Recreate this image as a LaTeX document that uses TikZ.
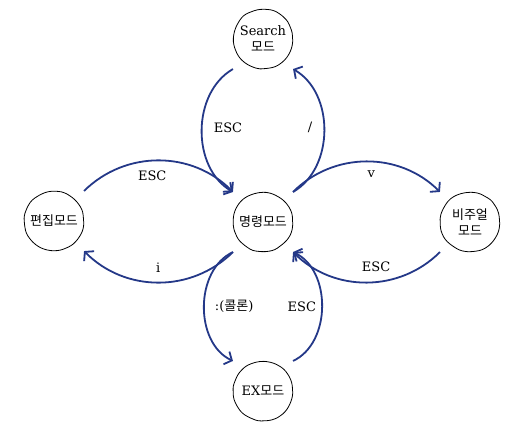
\documentclass[tikz,border=0pt]{standalone}
\usepackage{fontspec}
\setmainfont{DejaVu Serif}
\newfontfamily\kr{Noto Sans CJK KR}
\usetikzlibrary{arrows.meta,decorations.pathmorphing}
\definecolor{modenavy}{RGB}{36,56,136}
\begin{document}
\begin{tikzpicture}[x=1pt, y=1pt,
	mode/.style={draw, circle, minimum size=59pt, inner sep=0pt, outer sep=13pt, line width=0.8pt,
		decorate, decoration={random steps, segment length=6pt, amplitude=0.45pt},
		rounded corners=3pt, align=center, font=\fontsize{13}{16}\selectfont},
	trans/.style={draw=modenavy, line width=1.8pt, -{Straight Barb[length=6pt, width=14pt]}},
	lbl/.style={font=\fontsize{13}{16}\selectfont, inner sep=1pt}]
			\useasboundingbox (0,0) rectangle (519,429);
			% the five modes
			\node[mode] (search) at (263,390) {Search\\{\kr 모드}};
			\node[mode] (cmd) at (263,207) {\kr 명령모드};
			\node[mode] (edit) at (54,208) {\kr 편집모드};
			\node[mode] (visual) at (470,207) {\kr 비주얼\\\kr 모드};
			\node[mode] (ex) at (263,38) {EX{\kr 모드}};
			% transitions
			\draw[trans] (search.225) to[bend right=60] node[pos=0.48, lbl, right=10pt] {ESC} (cmd.135);
			\draw[trans] (cmd.45) to[bend right=60] node[pos=0.52, lbl, left=10pt] {/} (search.315);
			\draw[trans] (edit.45) to[bend left=45] node[pos=0.46, lbl, below=8pt] {ESC} (cmd.135);
			\draw[trans] (cmd.225) to[bend left=45] node[midway, lbl, above=8pt] {i} (edit.315);
			\draw[trans] (cmd.45) to[bend left=45] node[pos=0.53, lbl, below=7pt] {v} (visual.135);
			\draw[trans] (visual.225) to[bend left=45] node[pos=0.44, lbl, above=8pt] {ESC} (cmd.315);
			\draw[trans] (cmd.225) to[bend right=65] node[midway, lbl, right=9pt] {:({\kr 콜론})} (ex.135);
			\draw[trans] (ex.45) to[bend right=65] node[midway, lbl, left=4pt] {ESC} (cmd.315);
\end{tikzpicture}
\end{document}
